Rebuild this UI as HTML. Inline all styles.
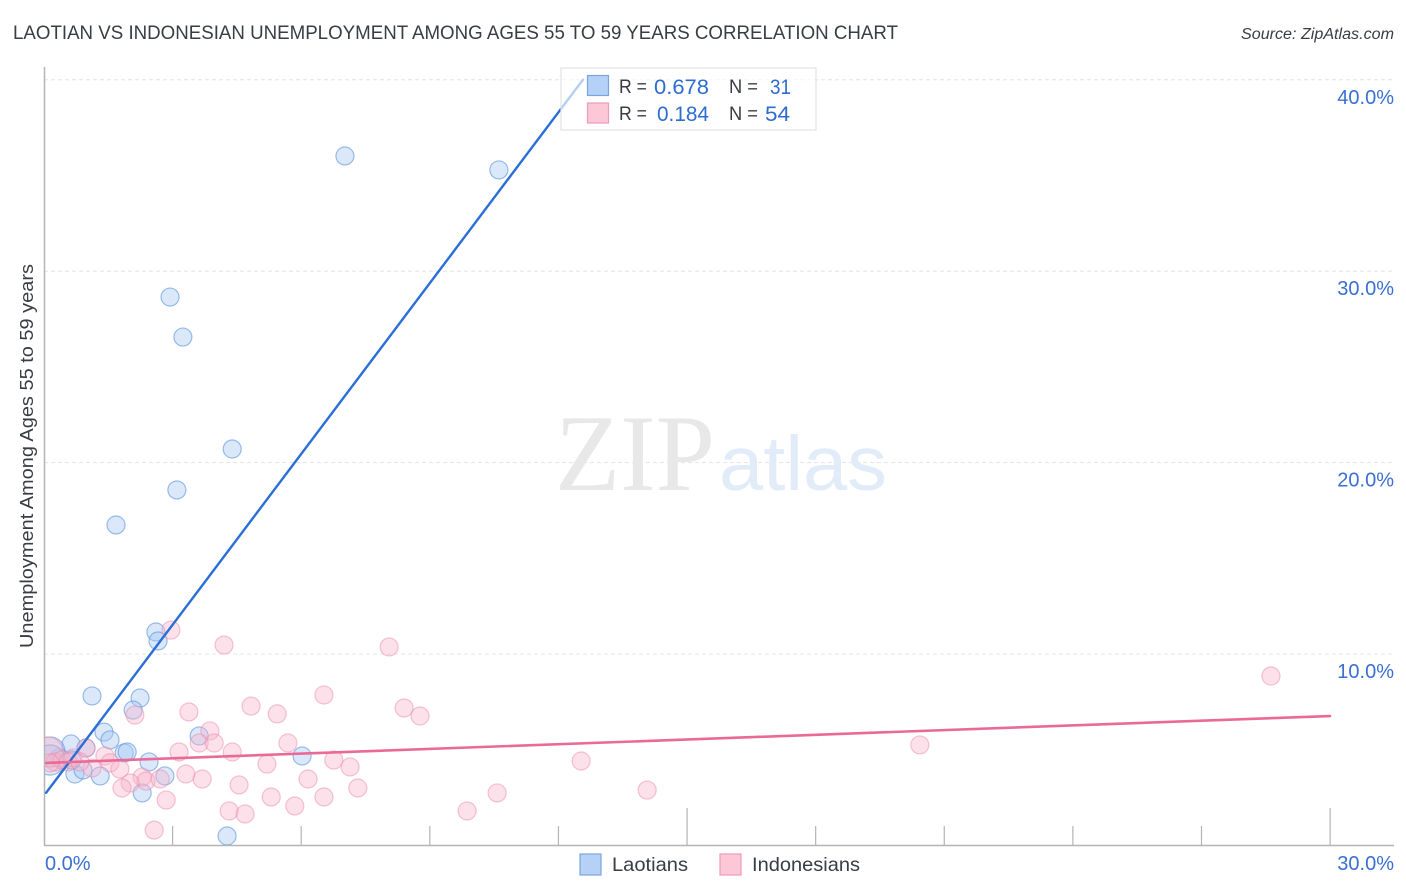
<!DOCTYPE html>
<html lang="en">
<head>
<meta charset="utf-8">
<title>Laotian vs Indonesian Unemployment Correlation Chart</title>
<style>
html,body{margin:0;padding:0;background:#fff;width:1406px;height:892px;overflow:hidden}
svg{display:block;font-family:"Liberation Sans",sans-serif}
</style>
</head>
<body>
<svg id="chart" xmlns="http://www.w3.org/2000/svg" width="1406" height="892" viewBox="0 0 1406 892">
  <defs>
    <clipPath id="plot-clip"><rect x="45" y="60" width="1349" height="785"/></clipPath>
  </defs>
  <text x="13" y="39" font-size="19" fill="#383c44" textLength="885" lengthAdjust="spacingAndGlyphs">LAOTIAN VS INDONESIAN UNEMPLOYMENT AMONG AGES 55 TO 59 YEARS CORRELATION CHART</text>
  <text x="1394" y="39" font-size="15.5" font-style="italic" fill="#383c44" text-anchor="end" textLength="153" lengthAdjust="spacingAndGlyphs">Source: ZipAtlas.com</text>
  <text transform="translate(33,648) rotate(-90)" font-size="18.5" fill="#383c44" textLength="384" lengthAdjust="spacingAndGlyphs">Unemployment Among Ages 55 to 59 years</text>
  <g id="grid"></g>
  <text x="555" y="490" font-family="'Liberation Serif',serif" font-size="109" fill="#e8e8e8" textLength="160" lengthAdjust="spacingAndGlyphs">ZIP</text>
  <text x="719" y="490" font-size="77" fill="#e2ebf8" textLength="168" lengthAdjust="spacingAndGlyphs">atlas</text>
  <g id="axes"></g>
  <g id="points" clip-path="url(#plot-clip)"></g>
  <g id="trends"></g>
  <g>
    <rect x="561" y="68" width="255" height="62" fill="#fff" fill-opacity="0.65" stroke="#e2e2e2" stroke-width="1.2"/>
    <rect x="587.5" y="75.5" width="21" height="20" fill="#b5d1f5" stroke="#7ba5e0" stroke-width="1.2"/>
    <rect x="587.5" y="103" width="21" height="20" fill="#fcc8d8" stroke="#f09ab6" stroke-width="1.2"/>
    <g font-size="19.5" fill="#383c44">
      <text x="619" y="93" textLength="28" lengthAdjust="spacingAndGlyphs">R =</text>
      <text x="729" y="93" textLength="29" lengthAdjust="spacingAndGlyphs">N =</text>
      <text x="619" y="120" textLength="28" lengthAdjust="spacingAndGlyphs">R =</text>
      <text x="729" y="120" textLength="29" lengthAdjust="spacingAndGlyphs">N =</text>
    </g>
    <g font-size="21" fill="#2f6cd0">
      <text x="654" y="94" textLength="55" lengthAdjust="spacingAndGlyphs">0.678</text>
      <text x="770" y="94" textLength="21" lengthAdjust="spacingAndGlyphs">31</text>
      <text x="657" y="121" textLength="52" lengthAdjust="spacingAndGlyphs">0.184</text>
      <text x="765" y="121" textLength="25" lengthAdjust="spacingAndGlyphs">54</text>
    </g>
  </g>
  <g>
    <rect x="580" y="854" width="21" height="21" fill="#b5d1f5" stroke="#7ba5e0" stroke-width="1.2"/>
    <text x="612" y="871" font-size="19.5" fill="#383c44" textLength="76" lengthAdjust="spacingAndGlyphs">Laotians</text>
    <rect x="720" y="854" width="21" height="21" fill="#fcc8d8" stroke="#f09ab6" stroke-width="1.2"/>
    <text x="752" y="871" font-size="19.5" fill="#383c44" textLength="108" lengthAdjust="spacingAndGlyphs">Indonesians</text>
  </g>
</svg>
<script>
const yTickValues = [10, 20, 30, 40];
const yTickLabels = ["10.0%", "20.0%", "30.0%", "40.0%"];
const xTickValues = [3, 6, 9, 12, 15, 18, 21, 24, 27, 30];
const xMajorTicks = [15, 30];
const xEndValues = [0, 30];
const xEndLabels = ["0.0%", "30.0%"];

const laotianX = [7.02,10.61,2.94,3.24,4.39,3.10,1.68,2.61,2.66,1.12,2.24,2.08,1.40,1.54,3.62,0.63,0.98,1.87,1.94,6.02,2.45,0.35,0.72,1.31,2.82,2.29,4.27,0.14,0.14,0.91,0.65];
const laotianY = [36.02,35.29,28.65,26.56,20.71,18.57,16.74,11.15,10.68,7.81,7.70,7.07,5.92,5.51,5.72,5.30,5.09,4.83,4.88,4.67,4.36,4.57,3.73,3.63,3.63,2.74,0.49,4.88,4.46,3.94,4.46];
const laotianWeight = [1,1,1,1,1,1,1,1,1,1,1,1,1,1,1,1,1,1,1,1,1,1,1,1,1,1,1,2.8,2.8,1,1];

const indonesianX = [2.96,4.20,8.05,28.62,6.53,4.83,8.40,8.77,3.38,2.12,5.44,3.87,3.62,3.97,5.69,20.43,0.98,3.15,4.39,6.76,7.14,5.20,12.53,1.42,1.54,1.77,0.68,1.12,3.31,3.69,2.29,2.38,2.71,2.01,1.82,4.55,6.16,7.32,5.30,6.53,10.57,14.07,2.85,5.85,4.32,4.69,9.87,2.57,0.09,0.26,0.42,0.14,0.56,0.84];
const indonesianY = [11.25,10.47,10.37,8.85,7.86,7.28,7.18,6.76,6.97,6.81,6.87,5.98,5.35,5.35,5.35,5.25,5.09,4.88,4.88,4.46,4.10,4.25,4.41,4.67,4.31,3.99,4.57,4.04,3.73,3.47,3.57,3.36,3.47,3.26,3.00,3.16,3.47,3.00,2.53,2.53,2.74,2.89,2.37,2.06,1.80,1.64,1.80,0.80,4.88,4.36,4.46,4.31,4.36,4.36];
const indonesianWeight = [1,1,1,1,1,1,1,1,1,1,1,1,1,1,1,1,1,1,1,1,1,1,1,1,1,1,1,1,1,1,1,1,1,1,1,1,1,1,1,1,1,1,1,1,1,1,1,1,2.8,1,1,1,1,1];

const laotianTrendX = [0.05, 12.57];
const laotianTrendY = [2.75, 40.0];
const indonesianTrendX = [0.05, 30];
const indonesianTrendY = [4.31, 6.76];

const NS = "http://www.w3.org/2000/svg";
const xScale = v => 44 + v * 42.87;
const yScale = v => 845.4 - v * 19.14;
const radiusOf = w => 9 * Math.sqrt(w);

function make(tag, attrs, parent, text) {
  const el = document.createElementNS(NS, tag);
  for (const k in attrs) el.setAttribute(k, attrs[k]);
  if (text !== undefined) el.textContent = text;
  parent.appendChild(el);
  return el;
}

const grid = document.getElementById("grid");
const axes = document.getElementById("axes");
const points = document.getElementById("points");
const trends = document.getElementById("trends");

yTickValues.forEach(function (v, i) {
  const line = make("line", {x1: 44, x2: 1394, y1: yScale(v), y2: yScale(v), stroke: "#e4e4e4", "stroke-width": 1, "stroke-dasharray": "4 3"}, grid);
  
  
  const label = make("text", {x: 1394, y: yScale(v) + 24, "font-size": 20, fill: "#3a6fd3", "text-anchor": "end"}, axes, yTickLabels[i]);
  
  
});

const yAxisLine = make("line", {x1: 44.5, x2: 44.5, y1: 67, y2: 846, stroke: "#b4b4b4", "stroke-width": 1.5}, axes);


const xAxisLine = make("line", {x1: 44, x2: 1394, y1: 845.5, y2: 845.5, stroke: "#b4b4b4", "stroke-width": 1.5}, axes);



xTickValues.forEach(function (v) {
  const top = xMajorTicks.includes(v) ? 808 : 826;
  const tick = make("line", {x1: xScale(v), x2: xScale(v), y1: top, y2: 845, stroke: "#b4b4b4", "stroke-width": 1.2}, axes);
  
  
});

xEndValues.forEach(function (v, i) {
  const px = i === 0 ? xScale(v) + 1 : 1394;
  const label = make("text", {x: px, y: 870, "font-size": 20, fill: "#3a6fd3", "text-anchor": i === 0 ? "start" : "end"}, axes, xEndLabels[i]);
  
  
});

laotianX.forEach(function (v, i) {
  const c = make("circle", {cx: xScale(v), cy: yScale(laotianY[i]), r: radiusOf(laotianWeight[i]), fill: "#a6c8f2", "fill-opacity": 0.42, stroke: "#5b93dc", "stroke-opacity": 0.6, "stroke-width": 1.2}, points);
  
  
});

indonesianX.forEach(function (v, i) {
  const c = make("circle", {cx: xScale(v), cy: yScale(indonesianY[i]), r: radiusOf(indonesianWeight[i]), fill: "#f7b4ca", "fill-opacity": 0.4, stroke: "#ec8aab", "stroke-opacity": 0.5, "stroke-width": 1.2}, points);
  
  
});

const blueTrend = make("line", {x1: xScale(laotianTrendX[0]), y1: yScale(laotianTrendY[0]), x2: xScale(laotianTrendX[1]), y2: yScale(laotianTrendY[1]), stroke: "#2a6fd6", "stroke-width": 2.4, "stroke-linecap": "round"}, trends);


const pinkTrend = make("line", {x1: xScale(indonesianTrendX[0]), y1: yScale(indonesianTrendY[0]), x2: xScale(indonesianTrendX[1]), y2: yScale(indonesianTrendY[1]), stroke: "#ea6a96", "stroke-width": 2.6, "stroke-linecap": "round"}, trends);


</script>
</body>
</html>
